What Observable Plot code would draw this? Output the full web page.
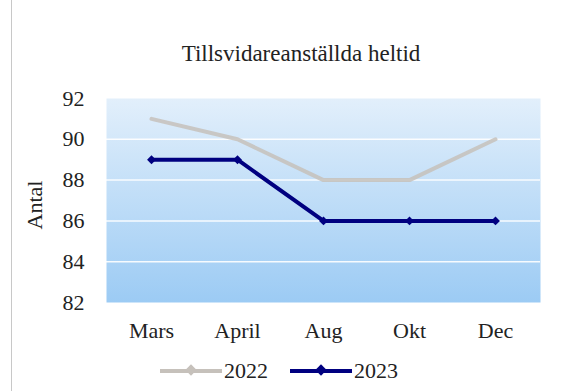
<!DOCTYPE html>
<html>
<head>
<meta charset="utf-8">
<script src="https://cdn.jsdelivr.net/npm/d3@7"></script>
<script src="https://cdn.jsdelivr.net/npm/@observablehq/plot@0.6"></script>
<style>
  html, body { margin: 0; padding: 0; background: #fff; }
  #wrap { position: relative; width: 564px; height: 391px; overflow: hidden; font-family: "Liberation Serif", "Times New Roman", Times, serif; }
  #title { position: absolute; left: 0; width: 602px; top: 41px; text-align: center; font-size: 23px; color: #222; }
  #edge { position: absolute; left: 11px; top: 0; width: 1px; height: 391px; background: #c8c8c8; }
  #ylab { position: absolute; left: 35px; top: 205px; transform: translate(-50%, -50%) rotate(-90deg); font-size: 22px; color: #222; white-space: nowrap; }
  #legend { position: absolute; top: 358px; left: 160px; font-size: 22px; color: #222; display: flex; align-items: center; }
  .sw { display: inline-block; width: 62px; height: 4px; position: relative; margin-right: 2px; }
  .sw i { position: absolute; left: 27px; top: -3px; width: 8px; height: 8px; transform: rotate(45deg); }
</style>
</head>
<body>
<div id="wrap">
  <div id="edge"></div>
  <div id="title">Tillsvidareanställda heltid</div>
  <div id="ylab">Antal</div>
  <div id="chart"></div>
  <div id="legend"></div>
</div>
<script>
const months = ["Mars", "April", "Aug", "Okt", "Dec"];
const values2022 = [91, 90, 88, 88, 90];
const values2023 = [89, 89, 86, 86, 86];
const yTicks = [82, 84, 86, 88, 90, 92];
const seriesNames = ["2022", "2023"];
const seriesColors = ["#c6c1bb", "#000080"];

const rows = [];
months.forEach((m, i) => {
  rows.push({month: m, value: values2022[i], series: "2022"});
  rows.push({month: m, value: values2023[i], series: "2023"});
});
const gridTicks = yTicks.filter(t => t > 82 && t < 92);

const plot = Plot.plot({
  width: 564,
  height: 391,
  marginLeft: 106,
  marginRight: 24,
  marginTop: 98,
  marginBottom: 89,
  style: {fontFamily: "'Liberation Serif', 'Times New Roman', Times, serif", fontSize: "22px", color: "#222", background: "transparent"},
  x: {type: "point", domain: months, padding: 0.5, label: null, tickSize: 0, tickPadding: 20},
  y: {domain: [82, 92], ticks: yTicks, label: null, tickSize: 0, tickPadding: 22},
  color: {domain: seriesNames, range: seriesColors},
  marks: [
    Plot.frame({fill: "url(#bgGrad)", stroke: null}),
    Plot.ruleY(gridTicks, {stroke: "#ffffff", strokeWidth: 1.5, strokeOpacity: 0.9}),
    Plot.line(rows.filter(d => d.series === "2022"), {x: "month", y: "value", stroke: "series", strokeWidth: 4, strokeOpacity: 0.85}),
    Plot.line(rows.filter(d => d.series === "2023"), {x: "month", y: "value", stroke: "series", strokeWidth: 4}),
    Plot.dot(rows.filter(d => d.series === "2023"), {x: "month", y: "value", fill: "series", symbol: "diamond2", r: 4, stroke: null})
  ]
});

const defs = d3.create("svg:defs");
const g = defs.append("linearGradient").attr("id", "bgGrad").attr("x1", 0).attr("y1", 0).attr("x2", 0).attr("y2", 1);
g.append("stop").attr("offset", "0%").attr("stop-color", "#e2effb");
g.append("stop").attr("offset", "100%").attr("stop-color", "#9ccbf4");
plot.insertBefore(defs.node(), plot.firstChild);
document.getElementById("chart").appendChild(plot);

const legend = document.getElementById("legend");
seriesNames.forEach((name, i) => {
  const item = document.createElement("span");
  item.style.display = "inline-flex";
  item.style.alignItems = "center";
  item.style.marginRight = "22px";
  const sw = document.createElement("span");
  sw.className = "sw";
  sw.style.background = seriesColors[i];
  const mk = document.createElement("i");
  mk.style.background = seriesColors[i];
  sw.appendChild(mk);
  item.appendChild(sw);
  const t = document.createElement("span");
  t.textContent = name;
  item.appendChild(t);
  legend.appendChild(item);
});
</script>
</body>
</html>
